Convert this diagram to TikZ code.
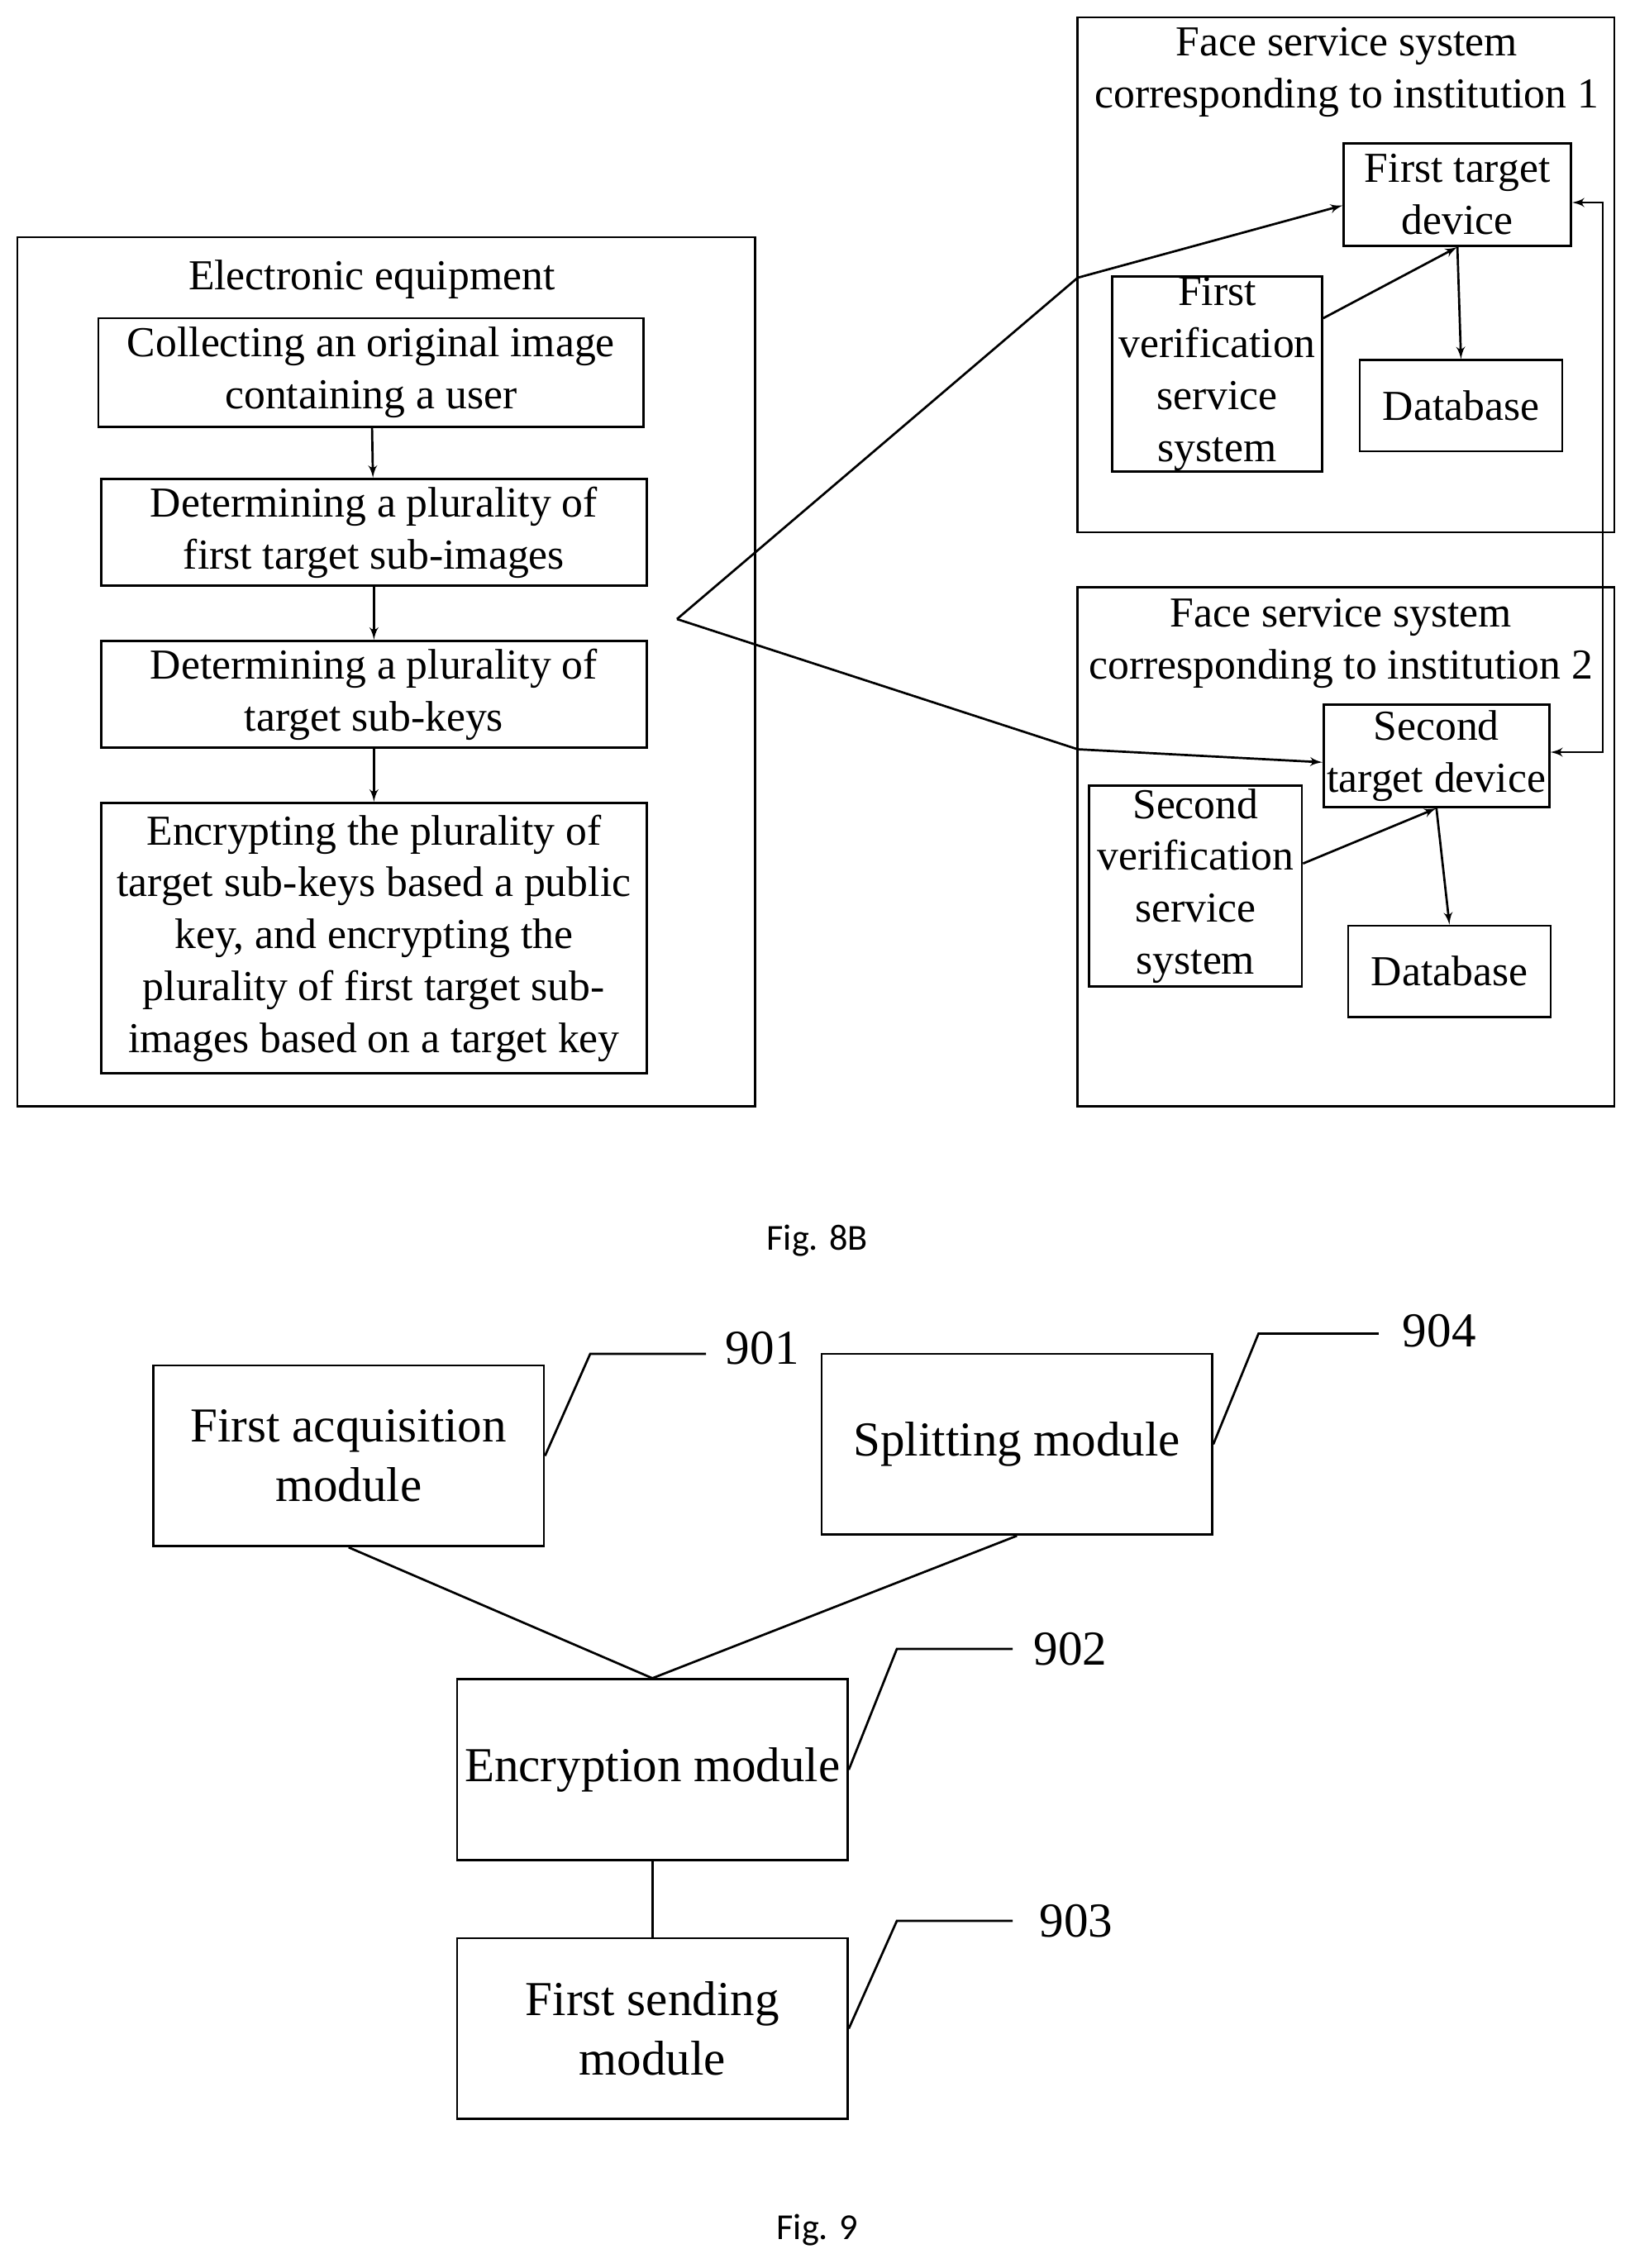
\documentclass[tikz,border=0pt]{standalone}
\usepackage{fontspec}
\setmainfont{Liberation Serif}
\newfontfamily\capfont{Carlito}
\usetikzlibrary{arrows,fit,positioning,calc}
\begin{document}
\begin{tikzpicture}[x=0.025cm, y=-0.025cm, >=latex', line width=1.1pt,
  box/.style={draw, inner sep=0pt, align=center, font=\fontsize{21}{25.5}\selectfont},
  bigbox/.style={draw, inner sep=0pt, align=center, font=\fontsize{24}{29}\selectfont},
  lbl/.style={font=\fontsize{21}{25.5}\selectfont, align=center},
  num/.style={font=\fontsize{24}{29}\selectfont},
  figcap/.style={font=\capfont\fontsize{18}{22}\selectfont}]
\useasboundingbox (0,0) rectangle (1130,1568);

%Fig. 8B, left part
\node [draw, inner sep=0pt, fit={(12,164)(522,765)}] (equip) {};
\node [lbl] (equipT) at (257,193) {Electronic equipment};
\node [box, fit={(68,220)(445,295)}] (collect) {};
\node [lbl] at (collect) {Collecting an original image\\containing a user};
\node [box, fit={(70,331)(447,405)}] (subimg) {};
\node [lbl] at (subimg) {Determining a plurality of\\first target sub-images};
\node [box, fit={(70,443)(447,517)}] (subkey) {};
\node [lbl] at (subkey) {Determining a plurality of\\target sub-keys};
\node [box, fit={(70,555)(447,742)}] (encrypt) {};
\node [lbl] at (encrypt) {Encrypting the plurality of\\target sub-keys based a public\\key, and encrypting the\\plurality of first target sub-\\images based on a target key};

%institution 1
\node [draw, inner sep=0pt, fit={(745,12)(1116,368)}] (inst1) {};
\node [lbl] at (931,50) {Face service system\\corresponding to institution 1};
\node [box, fit={(929,99)(1086,170)}] (dev1) {};
\node [lbl] at (dev1) {First target\\device};
\node [box, fit={(769,191)(914,326)}] (ver1) {};
\node [lbl] at (ver1) {First\\verification\\service\\system};
\node [box, fit={(940,249)(1080,312)}] (db1) {};
\node [lbl] at (db1) {Database};

%institution 2
\node [draw, inner sep=0pt, fit={(745,406)(1116,765)}] (inst2) {};
\node [lbl] at (927,445) {Face service system\\corresponding to institution 2};
\node [box, fit={(915,487)(1071,558)}] (dev2) {};
\node [lbl] at (dev2) {Second\\target device};
\node [box, fit={(753,543)(900,682)}] (ver2) {};
\node [lbl] at (ver2) {Second\\verification\\service\\system};
\node [box, fit={(932,640)(1072,703)}] (db2) {};
\node [lbl] at (db2) {Database};

\coordinate (split) at (468,428);
\coordinate (k1) at (745,192);
\coordinate (k2) at (745,518);
\coordinate (r1) at (1108,140);
\coordinate (r2) at (1108,520);

%connections
\draw [->] (collect) -- (subimg);
\draw [->] (subimg) -- (subkey);
\draw [->] (subkey) -- (encrypt);
\draw [->] (split) -- (k1) -- (dev1.west |- 0,142);
\draw [->] (split) -- (k2) -- (dev2.west |- 0,527);
\draw [->] (ver1.east |- 0,220) -- (dev1.south);
\draw [->] (dev1.south) -- (db1.north);
\draw [->] (ver2.east |- 0,597) -- (dev2.south);
\draw [->] (dev2.south) -- (db2.north);
\draw [<->] (dev1.east |- r1) -- (r1) -- (r2) -- (dev2.east |- r2);

\node [figcap] (fig8) at (565,858) {Fig. 8B};

%Fig. 9
\node [bigbox, fit={(106,944)(376,1069)}] (acq) {};
\node [bigbox, draw=none] at (acq) {First acquisition\\module};
\node [bigbox, fit={(568,936)(838,1061)}] (splitm) {};
\node [bigbox, draw=none] at (splitm) {Splitting module};
\node [bigbox, fit={(316,1161)(586,1286)}] (encm) {};
\node [bigbox, draw=none] at (encm) {Encryption module};
\node [bigbox, fit={(316,1340)(586,1465)}] (send) {};
\node [bigbox, draw=none] at (send) {First sending\\module};

\node [num] (n901) at (527,932) {901};
\node [num] (n904) at (995,920) {904};
\node [num] (n902) at (740,1140) {902};
\node [num] (n903) at (744,1328) {903};

\draw (acq.east) -- (408,936) -- (488,936);
\draw (splitm.east) -- (870,922) -- (953,922);
\draw (encm.east) -- (620,1140) -- (700,1140);
\draw (send.east) -- (620,1328) -- (700,1328);

\draw (acq.south) -- (encm.north);
\draw (splitm.south) -- (encm.north);
\draw (encm) -- (send);

\node [figcap] (fig9) at (565,1542) {Fig. 9};
\end{tikzpicture}
\end{document}
